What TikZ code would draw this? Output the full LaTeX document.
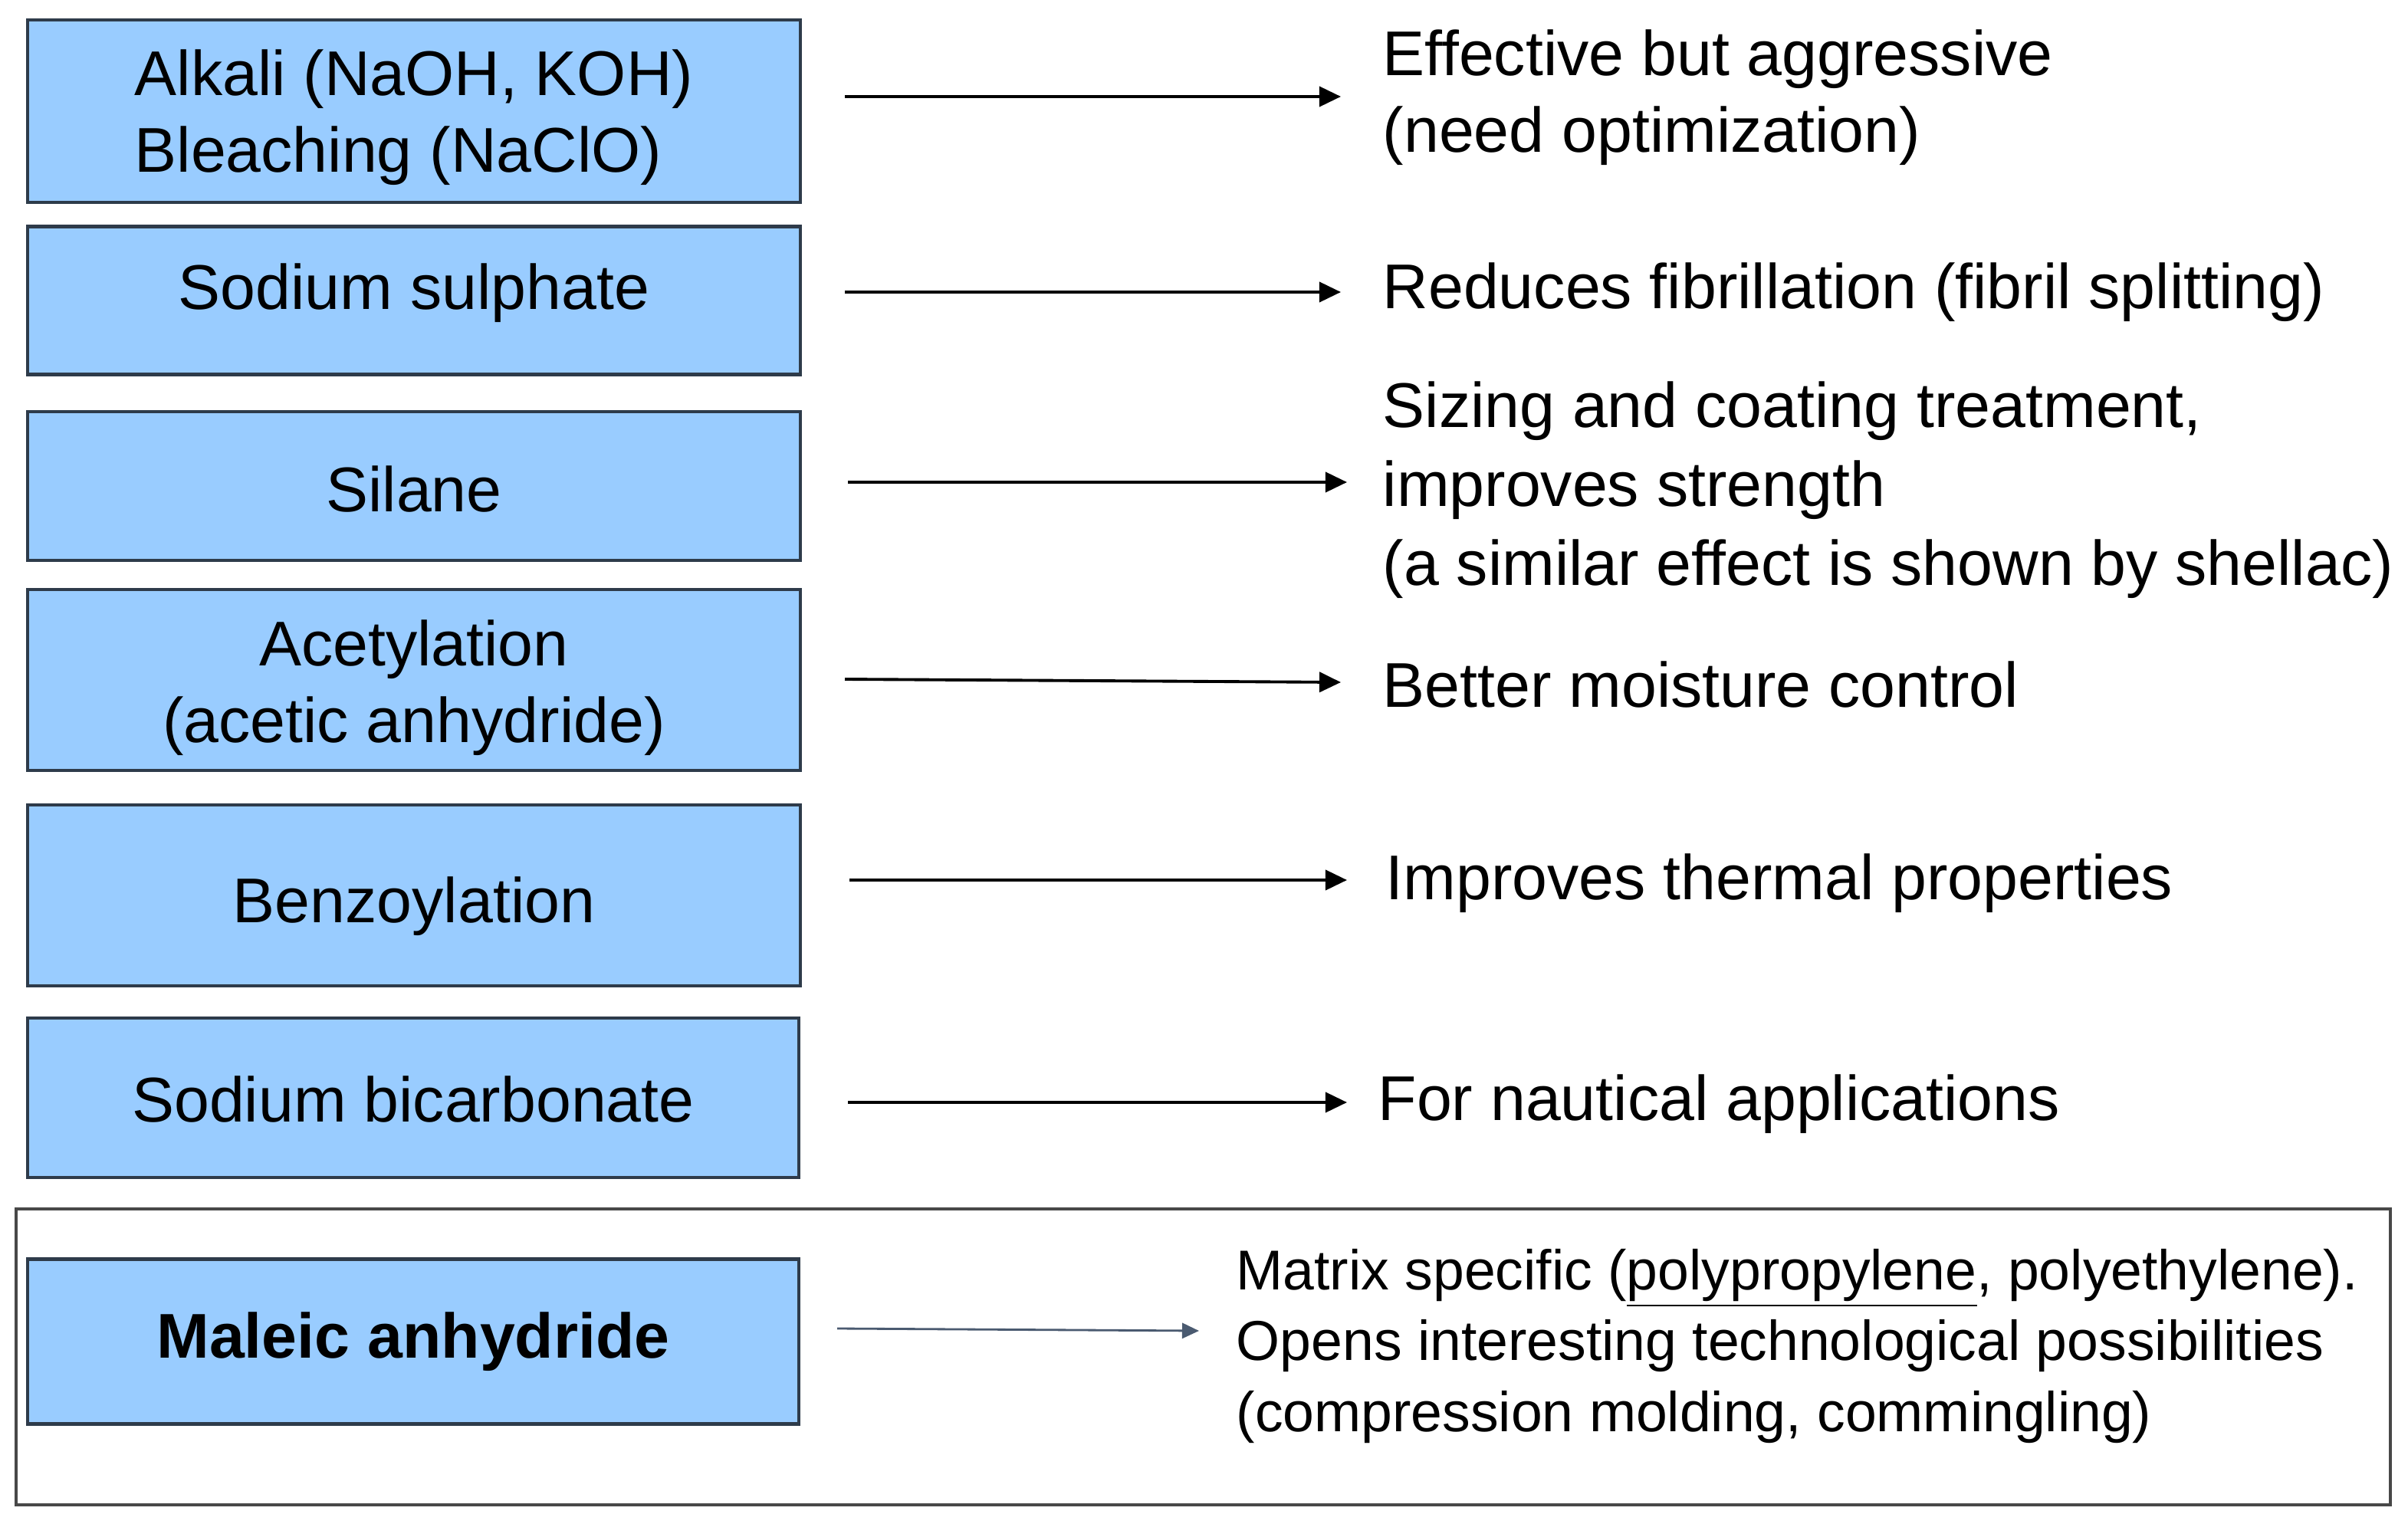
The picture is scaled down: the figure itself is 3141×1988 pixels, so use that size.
\documentclass[tikz,border=0pt]{standalone}
\usepackage{fontspec}
\setmainfont{Liberation Sans}
\usetikzlibrary{arrows.meta}
\definecolor{boxfill}{HTML}{99CCFF}
\definecolor{boxline}{HTML}{2E3B4A}
\definecolor{arrowslate}{HTML}{4A5A70}
\definecolor{framegray}{HTML}{484848}
\begin{document}
\begin{tikzpicture}[x=0.01cm,y=-0.01cm,
 treat/.style={draw=boxline, line width=1.2pt, fill=boxfill, inner sep=0pt, minimum width=10.07cm},
 treattext/.style={align=center, inner sep=0pt, font=\fontsize{23.45pt}{28.45pt}\selectfont},
 effect/.style={anchor=west, inner sep=0pt, align=left, font=\fontsize{23.45pt}{28.6pt}\selectfont},
 effectsmall/.style={anchor=west, inner sep=0pt, align=left, font=\fontsize{20.85pt}{26.2pt}\selectfont},
 conn/.style={line width=1.1pt, -{Triangle[length=0.28cm,width=0.26cm]}},
 connsmall/.style={draw=arrowslate, line width=0.8pt, -{Triangle[length=0.22cm,width=0.2cm]}}]
\useasboundingbox (0,0) rectangle (3141,1988);
\fill[white] (0,0) rectangle (3141,1988);

\node[draw=framegray, line width=1.1pt, minimum width=30.95cm, minimum height=3.86cm, inner sep=0pt] (frame) at (1569.5,1770) {};

\node[treat, minimum height=2.38cm, label={[treattext, align=left, yshift=-0.08cm]center:{Alkali (NaOH, KOH)\\Bleaching (NaClO)}}] (b1) at (540,145) {};
\node[treat, minimum height=1.93cm, label={[treattext, yshift=0.10cm]center:{Sodium sulphate}}] (b2) at (540,392) {};
\node[treat, minimum height=1.94cm, label={[treattext, yshift=-0.04cm]center:{Silane}}] (b3) at (540,634) {};
\node[treat, minimum height=2.36cm, label={[treattext, yshift=-0.10cm]center:{Acetylation\\(acetic anhydride)}}] (b4) at (540,887) {};
\node[treat, minimum height=2.36cm, label={[treattext, yshift=-0.14cm]center:{Benzoylation}}] (b5) at (540,1168) {};
\node[treat, minimum height=2.08cm, minimum width=10.06cm, label={[treattext, yshift=-0.02cm]center:{Sodium bicarbonate}}] (b6) at (539,1432) {};
\node[treat, minimum height=2.15cm, minimum width=10.06cm, label={[treattext, font=\fontsize{23.45pt}{28.45pt}\selectfont\bfseries]center:{Maleic anhydride}}] (b7) at (539,1750) {};

\node[effect] (t1) at (1803,127) {Effective but aggressive\\(need optimization)};
\node[effect] (t2) at (1803,381) {Reduces fibrillation (fibril splitting)};
\node[effect, font=\fontsize{23.45pt}{29.3pt}\selectfont] (t3) at (1803,639) {Sizing and coating treatment,\\improves strength\\(a similar effect is shown by shellac)};
\node[effect] (t4) at (1803,893) {Better moisture control};
\node[effect] (t5) at (1807,1152) {Improves thermal properties};
\node[effect] (t6) at (1797,1440) {For nautical applications};
\node[effectsmall] (t7) at (1612,1756) {Matrix specific (\underline{polypropylene}, polyethylene).\\Opens interesting technological possibilities\\(compression molding, commingling)};

\coordinate (a1s) at (1102,126); \coordinate (a1e) at (1749,126);
\coordinate (a2s) at (1102,381); \coordinate (a2e) at (1749,381);
\coordinate (a3s) at (1106,629); \coordinate (a3e) at (1757,629);
\coordinate (a4s) at (1102,886); \coordinate (a4e) at (1749,890);
\coordinate (a5s) at (1108,1148); \coordinate (a5e) at (1757,1148);
\coordinate (a6s) at (1106,1438); \coordinate (a6e) at (1757,1438);
\coordinate (a7s) at (1092,1733); \coordinate (a7e) at (1564,1736);

\draw[conn] (a1s) -- (a1e);
\draw[conn] (a2s) -- (a2e);
\draw[conn] (a3s) -- (a3e);
\draw[conn] (a4s) -- (a4e);
\draw[conn] (a5s) -- (a5e);
\draw[conn] (a6s) -- (a6e);
\draw[connsmall] (a7s) -- (a7e);
\end{tikzpicture}
\end{document}
